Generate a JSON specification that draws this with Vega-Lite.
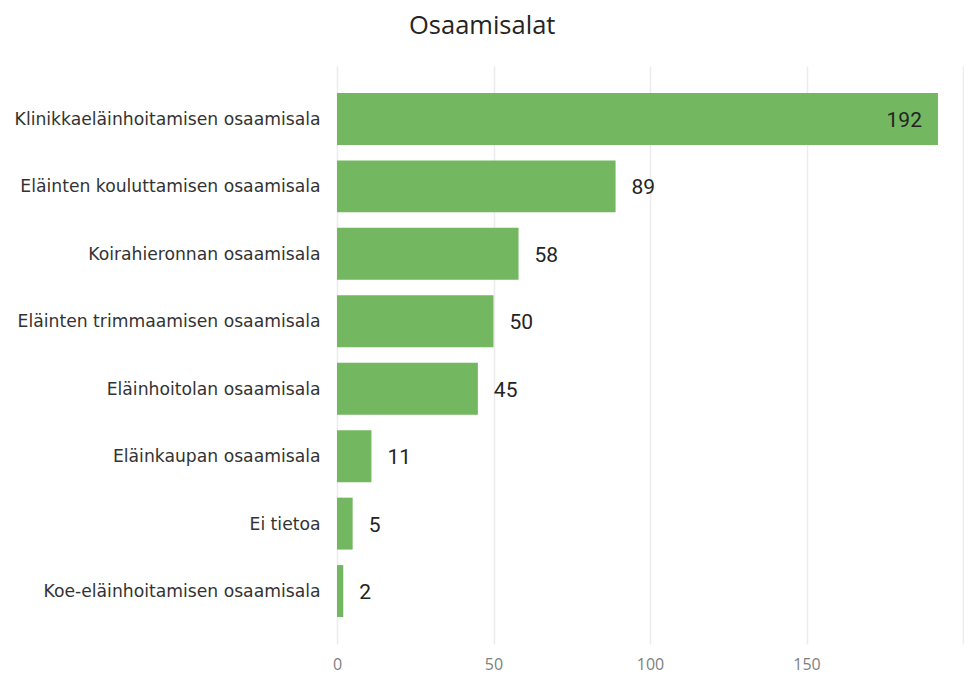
{"$schema":"https://vega.github.io/schema/vega-lite/v6.json","width":626,"height":578,"autosize":"none","padding":{"left":337,"top":66,"right":1,"bottom":56},"background":"white","config":{"view":{"stroke":null}},"title":{"text":"Osaamisalat","font":"Open Sans","fontSize":25.5,"fontWeight":"normal","color":"#252423","anchor":"start","frame":"group","dx":72,"dy":18,"offset":25,"baseline":"alphabetic"},"data":{"values":[{"ala":"Klinikkaeläinhoitamisen osaamisala","n":192},{"ala":"Eläinten kouluttamisen osaamisala","n":89},{"ala":"Koirahieronnan osaamisala","n":58},{"ala":"Eläinten trimmaamisen osaamisala","n":50},{"ala":"Eläinhoitolan osaamisala","n":45},{"ala":"Eläinkaupan osaamisala","n":11},{"ala":"Ei tietoa","n":5},{"ala":"Koe-eläinhoitamisen osaamisala","n":2}]},"encoding":{"y":{"field":"ala","type":"nominal","sort":null,"title":null,"scale":{"paddingInner":0.23,"paddingOuter":0.4},"axis":{"ticks":false,"domain":false,"grid":false,"labelPadding":17,"labelOffset":1,"labelFont":"DejaVu Sans","labelFontSize":17.2,"labelColor":"#333333","labelLimit":340}},"x":{"field":"n","type":"quantitative","title":null,"scale":{"domain":[0,200],"nice":false},"axis":{"values":[0,50,100,150,200],"labelExpr":"datum.value<200?datum.label:''","labelFlush":false,"ticks":false,"domain":false,"grid":true,"gridColor":"#ececec","gridWidth":1.5,"labelPadding":12,"labelFont":"Open Sans","labelFontSize":16,"labelColor":"#808080"}}},"layer":[{"mark":{"type":"bar","color":"#73B761"}},{"transform":[{"filter":"datum.n>=150"}],"mark":{"type":"text","align":"right","dx":-16,"dy":2,"font":"Roboto","fontSize":21,"color":"#252423"},"encoding":{"text":{"field":"n","type":"quantitative"}}},{"transform":[{"filter":"datum.n<150"}],"mark":{"type":"text","align":"left","dx":16,"dy":2,"font":"Roboto","fontSize":21,"color":"#252423"},"encoding":{"text":{"field":"n","type":"quantitative"}}}]}
